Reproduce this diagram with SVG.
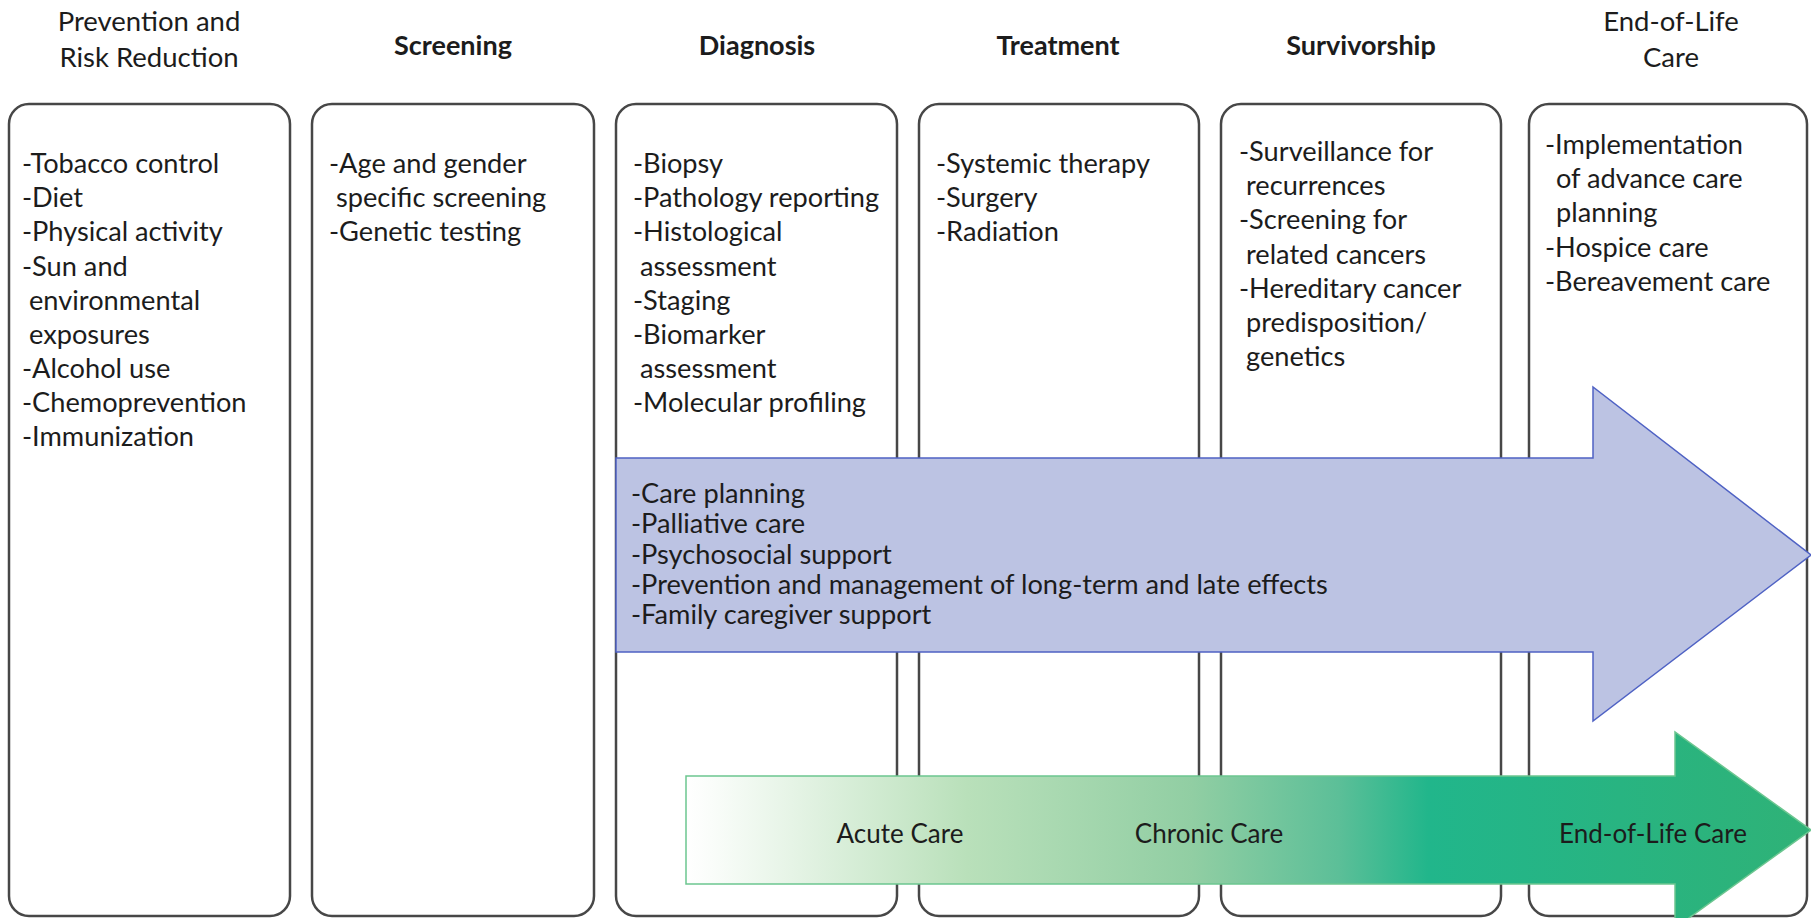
<svg xmlns="http://www.w3.org/2000/svg" width="1811" height="918" viewBox="0 0 1811 918">
<style>
.box{fill:#ffffff;stroke:#474747;stroke-width:2.5}
.t{font-family:Lato,"Open Sans","Liberation Sans",sans-serif;font-size:27.2px;fill:#1c1c1c}
.h{font-family:Lato,"Open Sans","Liberation Sans",sans-serif;font-size:27.5px;fill:#1c1c1c;text-anchor:middle}
.hb{font-weight:700;font-size:27px}
.lbl{font-family:Lato,"Open Sans","Liberation Sans",sans-serif;font-size:26px;fill:#1c1c1c;text-anchor:middle}
</style>
<defs>
<linearGradient id="greenGrad" gradientUnits="userSpaceOnUse" x1="686" y1="0" x2="1811" y2="0">
<stop offset="0" stop-color="#ffffff"/>
<stop offset="0.03" stop-color="#f8fcf8"/>
<stop offset="0.25" stop-color="#b9e0ba"/>
<stop offset="0.45" stop-color="#91cea3"/>
<stop offset="0.58" stop-color="#5cbf98"/>
<stop offset="0.66" stop-color="#21b68b"/>
<stop offset="1" stop-color="#2fb277"/>
</linearGradient>
</defs>
<rect width="1811" height="918" fill="#ffffff"/>

<g id="titles">
<text class="h" x="149" y="31" font-size="28">Prevention and</text>
<text class="h" x="149" y="67" font-size="28">Risk Reduction</text>
<text class="h hb" x="453" y="55">Screening</text>
<text class="h hb" x="757" y="55">Diagnosis</text>
<text class="h hb" x="1058" y="55">Treatment</text>
<text class="h hb" x="1361" y="55">Survivorship</text>
<text class="h" x="1671" y="31">End-of-Life</text>
<text class="h" x="1671" y="67">Care</text>
</g>

<g id="prevention">
<rect class="box" x="9" y="104" width="281" height="812" rx="20"/>
<text class="t" x="22" y="173">-Tobacco control</text>
<text class="t" x="22" y="207">-Diet</text>
<text class="t" x="22" y="241">-Physical activity</text>
<text class="t" x="22" y="276">-Sun and</text>
<text class="t" x="29" y="310">environmental</text>
<text class="t" x="29" y="344">exposures</text>
<text class="t" x="22" y="378">-Alcohol use</text>
<text class="t" x="22" y="412">-Chemoprevention</text>
<text class="t" x="22" y="446">-Immunization</text>
</g>

<g id="screening">
<rect class="box" x="312" y="104" width="282" height="812" rx="20"/>
<text class="t" x="329" y="173">-Age and gender</text>
<text class="t" x="336" y="207">specific screening</text>
<text class="t" x="329" y="241">-Genetic testing</text>
</g>

<g id="diagnosis">
<rect class="box" x="616" y="104" width="281" height="812" rx="20"/>
<text class="t" x="633" y="173">-Biopsy</text>
<text class="t" x="633" y="207">-Pathology reporting</text>
<text class="t" x="633" y="241">-Histological</text>
<text class="t" x="640" y="276">assessment</text>
<text class="t" x="633" y="310">-Staging</text>
<text class="t" x="633" y="344">-Biomarker</text>
<text class="t" x="640" y="378">assessment</text>
<text class="t" x="633" y="412">-Molecular profiling</text>
</g>

<g id="treatment">
<rect class="box" x="919" y="104" width="280" height="812" rx="20"/>
<text class="t" x="936" y="173">-Systemic therapy</text>
<text class="t" x="936" y="207">-Surgery</text>
<text class="t" x="936" y="241">-Radiation</text>
</g>

<g id="survivorship">
<rect class="box" x="1221" y="104" width="280" height="812" rx="20"/>
<text class="t" x="1239" y="161">-Surveillance for</text>
<text class="t" x="1246" y="195">recurrences</text>
<text class="t" x="1239" y="229">-Screening for</text>
<text class="t" x="1246" y="264">related cancers</text>
<text class="t" x="1239" y="298">-Hereditary cancer</text>
<text class="t" x="1246" y="332">predisposition/</text>
<text class="t" x="1246" y="366">genetics</text>
</g>

<g id="end-of-life">
<rect class="box" x="1529" y="104" width="278" height="812" rx="20"/>
<text class="t" x="1545" y="154">-Implementation</text>
<text class="t" x="1556" y="188">of advance care</text>
<text class="t" x="1556" y="222">planning</text>
<text class="t" x="1545" y="257">-Hospice care</text>
<text class="t" x="1545" y="291">-Bereavement care</text>
</g>

<g id="connectors">
<g id="care-arrow">
<polygon points="616,458 1593,458 1593,387 1811,555 1593,721 1593,652 616,652" fill="#bcc3e3" stroke="#4f62c4" stroke-width="1.5"/>
<text class="t" x="631" y="503">-Care planning</text>
<text class="t" x="631" y="533">-Palliative care</text>
<text class="t" x="631" y="564">-Psychosocial support</text>
<text class="t" x="631" y="594">-Prevention and management of long-term and late effects</text>
<text class="t" x="631" y="624">-Family caregiver support</text>
</g>
<g id="continuum-arrow">
<polygon points="686,776 1675,776 1675,732 1811,830 1675,928 1675,884 686,884" fill="url(#greenGrad)" stroke="#6cc690" stroke-width="1.5"/>
<text class="lbl" x="900" y="843">Acute Care</text>
<text class="lbl" x="1209" y="843">Chronic Care</text>
<text class="lbl" x="1653" y="843">End-of-Life Care</text>
</g>
</g>
</svg>
